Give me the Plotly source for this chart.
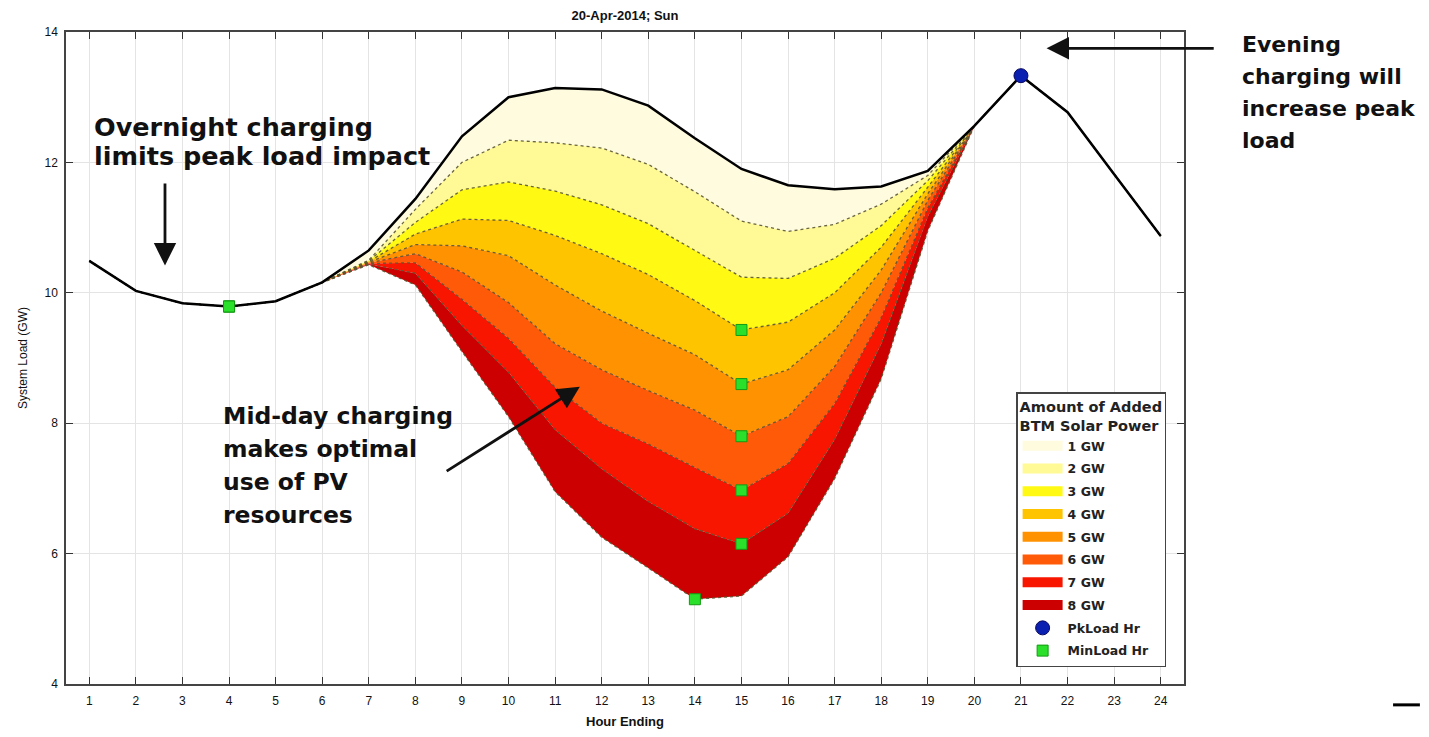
import plotly.graph_objects as go

# ---------------- data ----------------
hours = list(range(1, 25))
hour_labels = [str(h) for h in hours]

# Base system load (GW), hour ending 1..24
base_load = [10.49, 10.03, 9.84, 9.79, 9.87, 10.16, 10.65, 11.44, 12.40, 13.00, 13.14, 13.12,
             12.87, 12.37, 11.90, 11.65, 11.59, 11.63, 11.87, 12.56, 13.33, 12.77, 11.82, 10.87]

# Daytime load (hours 7..19) with added BTM solar
day_hours = list(range(7, 20))
gw1 = [10.50, 11.28, 12.00, 12.34, 12.30, 12.22, 11.97, 11.55, 11.10, 10.94, 11.05, 11.36, 11.80]
gw2 = [10.49, 11.08, 11.58, 11.70, 11.56, 11.35, 11.06, 10.65, 10.24, 10.22, 10.53, 11.03, 11.72]
gw3 = [10.48, 10.90, 11.13, 11.11, 10.88, 10.60, 10.28, 9.88, 9.43, 9.55, 10.00, 10.70, 11.62]
gw4 = [10.47, 10.74, 10.72, 10.57, 10.12, 9.72, 9.38, 9.05, 8.60, 8.82, 9.43, 10.35, 11.52]
gw5 = [10.46, 10.60, 10.32, 9.85, 9.22, 8.82, 8.50, 8.20, 7.80, 8.10, 8.87, 10.00, 11.42]
gw6 = [10.45, 10.46, 9.90, 9.30, 8.55, 8.00, 7.68, 7.32, 6.97, 7.38, 8.30, 9.62, 11.30]
gw7 = [10.44, 10.30, 9.50, 8.78, 7.90, 7.30, 6.80, 6.38, 6.15, 6.62, 7.75, 9.22, 11.17]
gw8 = [10.43, 10.12, 9.10, 8.10, 6.95, 6.25, 5.78, 5.30, 5.35, 5.95, 7.15, 8.68, 10.95]

scenario_names = ["1 GW", "2 GW", "3 GW", "4 GW", "5 GW", "6 GW", "7 GW", "8 GW"]
scenario_day = [gw1, gw2, gw3, gw4, gw5, gw6, gw7, gw8]

# ---------------- styles ----------------
fill_colors = ["#FFFBDE", "#FFFA96", "#FFF914", "#FFC400", "#FF9200",
               "#FF5A08", "#F81600", "#CC0000"]
dot_color = "rgba(90,85,50,0.9)"
ann_family = "DejaVu Sans"


def full_day(day_vals):
    i0 = day_hours[0] - 1
    i1 = day_hours[-1]
    return base_load[:i0] + list(day_vals) + base_load[i1:]


fig = go.Figure()

# invisible base for the first fill
fig.add_trace(go.Scatter(x=hours, y=base_load, mode="lines",
                         line=dict(width=0, color="black"),
                         showlegend=False, hoverinfo="skip"))

for name, vals, col in zip(scenario_names, scenario_day, fill_colors):
    fig.add_trace(go.Scatter(x=hours, y=full_day(vals), mode="lines",
                             fill="tonexty", fillcolor=col,
                             line=dict(color=dot_color, width=1.3, dash="dot"),
                             name=name, showlegend=False))

# base load line on top
fig.add_trace(go.Scatter(x=hours, y=base_load, mode="lines",
                         line=dict(color="black", width=2.5),
                         showlegend=False))

# legend proxies for the filled bands
for i, (name, col) in enumerate(zip(scenario_names, fill_colors)):
    fig.add_trace(go.Scatter(x=[None], y=[None], mode="lines",
                             line=dict(color=col, width=15),
                             name=name, legendgroup=f"g{i}"))

# peak load marker
pk_idx = base_load.index(max(base_load))
fig.add_trace(go.Scatter(x=[hours[pk_idx]], y=[base_load[pk_idx]], mode="markers",
                         marker=dict(symbol="circle", size=14, color="#0B1FB0",
                                     line=dict(color="#0A0A60", width=1)),
                         name="PkLoad Hr", legendgroup="pk"))

# min load markers for each scenario
min_x, min_y = [], []
for vals in [base_load] + [full_day(v) for v in scenario_day]:
    m = min(vals)
    min_x.append(hours[vals.index(m)])
    min_y.append(m)
fig.add_trace(go.Scatter(x=min_x, y=min_y, mode="markers",
                         marker=dict(symbol="square", size=11, color="#2BE02B",
                                     line=dict(color="#139A13", width=1)),
                         name="MinLoad Hr", legendgroup="mn"))


# ---------------- annotations ----------------
def sized(lines, px):
    return "<br>".join(f'<span style="font-size:{px}px"><b>{t}</b></span>' for t in lines)


fig.add_annotation(xref="paper", yref="paper", x=0.023, y=0.880,
                   xanchor="left", yanchor="top", align="left",
                   text=sized(["Overnight charging", "limits peak load impact"], 25.5),
                   showarrow=False, font=dict(family=ann_family, size=22.5, color="#111"))
fig.add_annotation(xref="paper", yref="paper", x=0.139, y=0.436,
                   xanchor="left", yanchor="top", align="left",
                   text=sized(["Mid-day charging", "makes optimal", "use of PV", "resources"], 23.5),
                   showarrow=False, font=dict(family=ann_family, size=25.5, color="#111"))
fig.add_annotation(xref="paper", yref="paper", x=1.05, y=1.003,
                   xanchor="left", yanchor="top", align="left",
                   text=sized(["Evening", "charging will", "increase peak", "load"], 22),
                   showarrow=False, font=dict(family=ann_family, size=24.5, color="#111"))

# arrows
arrow_style = dict(xref="x", yref="y", axref="x", ayref="y", text="", showarrow=True,
                   arrowhead=2, arrowsize=1.6, arrowwidth=2.8, arrowcolor="#111")
fig.add_annotation(x=2.625, y=10.42, ax=2.625, ay=11.70, **arrow_style)
fig.add_annotation(x=11.53, y=8.56, ax=8.64, ay=7.25, **arrow_style)
fig.add_annotation(x=21.55, y=13.75, ax=25.17, ay=13.75, **arrow_style)

# small dash at bottom right (slide artifact)
fig.add_shape(type="line", xref="paper", yref="paper",
              x0=1.187, x1=1.211, y0=-0.032, y1=-0.032,
              line=dict(color="black", width=3))

axis_font = dict(family="Liberation Sans Narrow, Liberation Sans, Arial", size=12, color="#111")
legend_family = "DejaVu Sans"

fig.update_layout(
    width=1413, height=721,
    margin=dict(l=58, r=237, t=24, b=45),
    paper_bgcolor="white", plot_bgcolor="white",
    title=dict(text="<b>20-Apr-2014; Sun</b>", x=0.5, xref="paper", xanchor="center",
               y=1 - 7 / 721, yref="container", yanchor="middle",
               font=dict(family="Liberation Sans Narrow, Liberation Sans, Arial", size=13, color="#111")),
    xaxis=dict(range=[0.5, 24.5], tickvals=hours, ticktext=hour_labels,
               ticks="inside", ticklen=7, tickcolor="#333", tickwidth=1,
               showline=True, linecolor="#444", linewidth=1.5, mirror="ticks",
               showgrid=True, gridcolor="#e4e4e4", gridwidth=1, zeroline=False,
               tickfont=axis_font, ticklabelstandoff=5, automargin=False,
               title=dict(text="<b>Hour Ending</b>", standoff=13,
                          font=dict(family="Liberation Sans Narrow, Liberation Sans, Arial",
                                    size=13, color="#111"))),
    yaxis=dict(range=[4, 14], tickvals=[4, 6, 8, 10, 12, 14],
               ticks="inside", ticklen=7, tickcolor="#333", tickwidth=1,
               showline=True, linecolor="#444", linewidth=1.5, mirror="ticks",
               showgrid=True, gridcolor="#e4e4e4", gridwidth=1, zeroline=False,
               tickfont=axis_font, ticklabelstandoff=4, automargin=False,
               title=dict(text="System Load (GW)", standoff=14,
                          font=dict(family="Liberation Sans, Arial", size=12, color="#111"))),
    legend=dict(x=0.984, y=0.026, xanchor="right", yanchor="bottom",
                bgcolor="white", bordercolor="#444", borderwidth=1.5,
                tracegroupgap=3.5, itemwidth=40,
                font=dict(family=legend_family, size=12.5, color="#222", weight="bold"),
                title=dict(text="<b>Amount of Added<br>BTM Solar Power</b>", side="top",
                           font=dict(family=legend_family, size=14.5, color="#222"))),
    showlegend=True,
)

fig.write_html("out.html")
